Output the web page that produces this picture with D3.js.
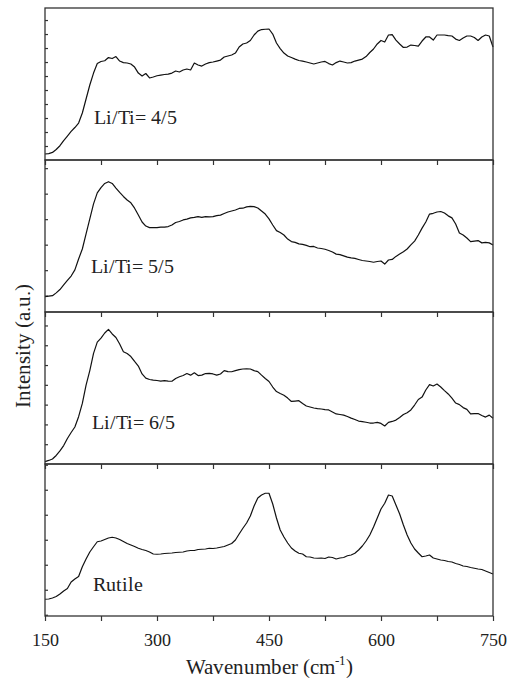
<!DOCTYPE html>
<html>
<head>
<meta charset="utf-8">
<script src="https://cdn.jsdelivr.net/npm/d3@7"></script>
<style>
  @font-face { font-family: "ChartSerif"; src: local("Liberation Serif"), local("LiberationSerif"), local("Liberation Serif Regular"); }
  body { margin: 0; background: #fff; }
  svg { display: block; }
  svg text { font-family: ChartSerif, "Liberation Serif", serif; }
</style>
</head>
<body>
<div id="chart"></div>
<script>
// wavenumber grid (cm-1) shared by all four spectra
var wavenumbers = [150,155,160,165,170,175,180,185,190,195,200,205,210,215,220,225,230,235,240,245,
  250,255,260,265,270,275,280,285,290,295,300,305,310,315,320,325,330,335,340,345,
  350,355,360,365,370,375,380,385,390,395,400,405,410,415,420,425,430,435,440,445,
  450,455,460,465,470,475,480,485,490,495,500,505,510,515,520,525,530,535,540,545,
  550,555,560,565,570,575,580,585,590,595,600,605,610,615,620,625,630,635,640,645,
  650,655,660,665,670,675,680,685,690,695,700,705,710,715,720,725,730,735,740,745,750];

// intensities (a.u.), one array per sample
var li45 = [43,46,54,75,102,139,171,204,232,264,336,436,536,621,689,704,709,732,725,739,
  707,696,693,686,664,621,600,618,586,593,602,607,611,614,621,636,629,643,650,643,
  693,679,671,686,696,700,707,714,736,743,750,764,807,829,836,854,893,921,932,934,
  936,900,836,796,764,743,732,721,711,707,700,693,686,693,700,704,689,679,696,707,
  700,693,696,707,714,721,739,768,793,829,854,843,893,896,857,829,804,807,821,818,
  814,850,879,879,857,893,893,893,889,886,864,854,871,886,886,875,854,879,893,886,807];

var li55 = [96,98,100,111,124,142,160,177,201,244,283,342,401,460,503,524,540,547,540,522,
  505,489,475,464,443,416,389,373,367,367,367,369,369,371,377,387,391,397,400,405,
  407,410,407,410,409,410,414,416,422,428,432,436,442,443,448,450,449,444,432,420,
  401,377,355,348,338,322,312,309,303,301,297,292,293,287,285,282,277,271,263,261,
  256,251,248,246,242,238,236,234,231,234,236,224,240,242,254,263,272,283,299,314,
  338,365,389,420,423,428,430,424,413,405,381,346,338,326,312,314,316,307,309,307,299];

var li65 = [12,18,25,43,66,93,129,159,187,239,306,399,472,559,616,636,662,680,657,639,
  606,567,558,543,518,495,455,434,427,424,422,419,421,419,418,432,441,447,457,449,
  461,447,449,457,458,455,449,455,472,467,466,472,477,480,481,480,472,467,449,432,
  417,389,366,356,347,333,316,318,320,306,293,288,283,280,278,275,273,263,253,250,
  247,240,232,225,217,214,211,207,207,210,205,192,210,215,222,235,250,259,273,298,
  326,338,374,401,394,404,389,371,354,333,308,300,285,276,253,255,255,245,237,247,231];

var rutile = [62,63,67,73,83,95,105,131,143,153,192,223,251,272,292,295,301,307,310,307,
  301,293,285,279,273,266,261,257,251,243,242,243,245,246,247,249,250,251,255,257,
  257,261,262,263,266,265,267,270,273,279,285,299,323,346,367,395,435,467,479,486,
  486,443,387,339,311,287,267,255,246,243,232,231,227,226,227,225,231,229,223,227,
  229,236,239,246,259,275,295,319,351,387,423,446,479,475,439,403,359,319,287,263,
  247,232,235,239,227,223,219,217,213,211,205,201,195,193,189,186,183,181,175,169,163];

var series = [li45, li55, li65, rutile];
var sampleLabels = ["Li/Ti= 4/5", "Li/Ti= 5/5", "Li/Ti= 6/5", "Rutile"];
var xTicks = [150, 225, 300, 375, 450, 525, 600, 675, 750];
var xTickLabels = [150, 300, 450, 600, 750];

// y range of each stacked layer (a.u.), with its first minor tick
var yDomains = [[0, 1086], [36, 632], [0, 768], [-5, 603]];
var yFirstTick = [100, 100, 100, 0];
var yTickStep = 100;

var serifFont = "ChartSerif, 'Liberation Serif', serif";
var axisColor = "#333";
var width = 515, height = 682;
var plotLeft = 45, plotRight = 493, plotTop = 8, panelH = 152;

var svg = d3.select("#chart").append("svg")
    .attr("width", width)
    .attr("height", height)
    .attr("font-family", serifFont);

var x = d3.scaleLinear()
    .domain([150, 750])
    .range([plotLeft, plotRight]);

series.forEach(function(values, i) {
  var top = plotTop + i * panelH;
  var bottom = top + panelH;

  var y = d3.scaleLinear()
      .domain(yDomains[i])
      .range([bottom, top]);

  var g = svg.append("g").attr("class", "panel");

  // bottom axis, ticks pointing down out of the layer
  var isLast = i === series.length - 1;
  var xAxis = d3.axisBottom(x)
      .tickValues(xTicks)
      .tickSizeInner(5)
      .tickSizeOuter(0)
      .tickPadding(12)
      .tickFormat(function(d) { return isLast && xTickLabels.indexOf(d) > -1 ? d : ""; });

  var gx = g.append("g")
      .attr("transform", "translate(0," + bottom + ")")
      .call(xAxis)
      .attr("font-family", serifFont)
      .attr("font-size", 18);
  gx.select(".domain").remove();
  gx.selectAll("line").attr("stroke", axisColor).attr("stroke-width", 1.2);
  gx.selectAll("text")
      .attr("fill", "#222")
      .style("font-family", serifFont)
      .style("font-size", "18px");

  // left axis, minor ticks pointing in
  var yTicks = d3.range(yFirstTick[i], yDomains[i][1], yTickStep);
  var yAxis = d3.axisLeft(y)
      .tickValues(yTicks)
      .tickSizeInner(-3)
      .tickSizeOuter(0)
      .tickFormat("");
  var gy = g.append("g")
      .attr("transform", "translate(" + plotLeft + ",0)")
      .call(yAxis);
  gy.select(".domain").remove();
  gy.selectAll("line").attr("stroke", axisColor).attr("stroke-width", 1.2);

  // the spectrum
  var line = d3.line()
      .x(function(d, j) { return x(wavenumbers[j]); })
      .y(function(d) { return y(d); });

  g.append("path")
      .datum(values)
      .attr("d", line)
      .attr("fill", "none")
      .attr("stroke", "#111")
      .attr("stroke-width", 1.2)
      .attr("stroke-linejoin", "round");

  // frame of the layer
  g.append("rect")
      .attr("x", plotLeft)
      .attr("y", top)
      .attr("width", plotRight - plotLeft)
      .attr("height", panelH)
      .attr("fill", "none")
      .attr("stroke", axisColor)
      .attr("stroke-width", 1.3);

  g.append("text")
      .attr("x", x([215, 212, 213, 214][i]))
      .attr("y", y(yDomains[i][0]) - [36, 39, 35, 25][i])
      .attr("fill", "#222")
      .style("font-family", serifFont)
      .style("font-size", "20px")
      .text(sampleLabels[i]);
});

// axis titles
var xTitle = svg.append("text")
    .attr("x", (plotLeft + plotRight) / 2)
    .attr("y", 674)
    .attr("text-anchor", "middle")
    .attr("fill", "#222")
    .style("font-family", serifFont)
    .style("font-size", "21px");
xTitle.append("tspan").text("Wavenumber (cm");
xTitle.append("tspan").attr("dy", -9).style("font-size", "13px").text("-1");
xTitle.append("tspan").attr("dy", 9).text(")");

svg.append("text")
    .attr("transform", "translate(30,346) rotate(-90)")
    .attr("text-anchor", "middle")
    .attr("fill", "#222")
    .style("font-family", serifFont)
    .style("font-size", "21px")
    .text("Intensity (a.u.)");
</script>
</body>
</html>
